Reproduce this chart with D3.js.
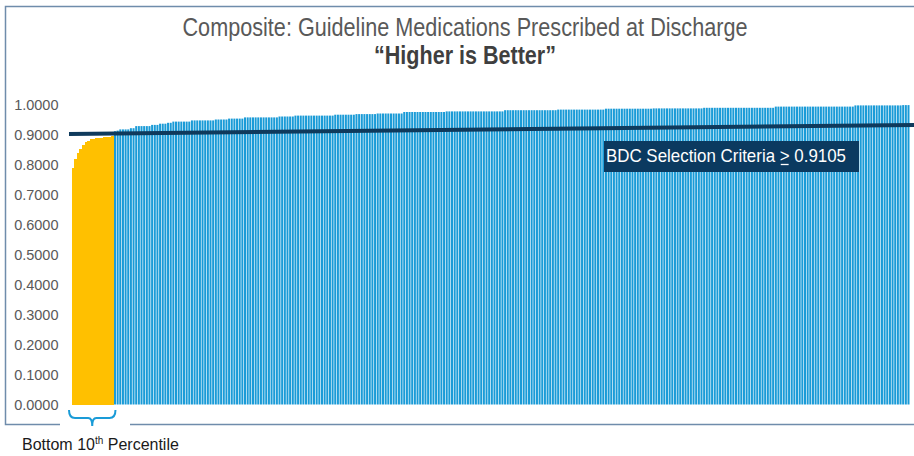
<!DOCTYPE html>
<html>
<head>
<meta charset="utf-8">
<script src="https://cdn.jsdelivr.net/npm/d3@7/dist/d3.min.js"></script>
<style>
  html, body { margin: 0; padding: 0; background: #fff; }
  svg { display: block; }
</style>
</head>
<body>
<svg id="chart" width="914" height="456"></svg>
<script>
// ---------------- DATA ----------------
const titleLines = ["Composite: Guideline Medications Prescribed at Discharge", "\u201CHigher is Better\u201D"];
const yTicks = [0, 0.1, 0.2, 0.3, 0.4, 0.5, 0.6, 0.7, 0.8, 0.9, 1.0];
const bottomValues = [0.790, 0.818, 0.838, 0.853, 0.866, 0.875, 0.880, 0.884, 0.886, 0.888, 0.889, 0.890, 0.891, 0.892, 0.893, 0.895];
const aboveValues = [
  0.911,0.913,0.917,0.917,0.917,0.917,0.921,0.921,0.928,0.928,0.928,0.928,0.928,0.928,0.932,0.932,0.932,0.936,0.936,0.936,
  0.939,0.939,0.943,0.943,0.943,0.943,0.943,0.943,0.943,0.947,0.947,0.947,0.947,0.947,0.947,0.947,0.947,0.947,0.950,0.950,
  0.950,0.950,0.950,0.953,0.953,0.953,0.953,0.953,0.953,0.957,0.957,0.957,0.957,0.957,0.957,0.957,0.957,0.957,0.957,0.957,
  0.957,0.957,0.960,0.960,0.960,0.960,0.960,0.960,0.963,0.963,0.963,0.963,0.963,0.963,0.963,0.963,0.963,0.963,0.963,0.963,
  0.963,0.963,0.963,0.966,0.966,0.966,0.966,0.966,0.966,0.966,0.966,0.968,0.968,0.968,0.968,0.968,0.968,0.968,0.968,0.970,
  0.970,0.970,0.970,0.970,0.970,0.970,0.970,0.970,0.970,0.975,0.975,0.975,0.975,0.975,0.975,0.975,0.975,0.975,0.975,0.975,
  0.975,0.975,0.975,0.975,0.975,0.977,0.977,0.977,0.977,0.977,0.977,0.977,0.977,0.977,0.977,0.977,0.977,0.977,0.977,0.977,
  0.977,0.977,0.977,0.977,0.977,0.977,0.977,0.981,0.981,0.981,0.981,0.981,0.981,0.981,0.981,0.981,0.981,0.981,0.981,0.981,
  0.981,0.981,0.981,0.981,0.981,0.981,0.981,0.983,0.983,0.983,0.983,0.983,0.983,0.983,0.983,0.983,0.983,0.983,0.983,0.983,
  0.983,0.983,0.983,0.983,0.983,0.986,0.986,0.986,0.986,0.986,0.986,0.986,0.986,0.986,0.986,0.986,0.986,0.986,0.986,0.986,
  0.986,0.986,0.986,0.987,0.987,0.987,0.987,0.987,0.987,0.987,0.987,0.987,0.987,0.987,0.987,0.987,0.987,0.987,0.987,0.987,
  0.987,0.987,0.989,0.989,0.989,0.989,0.989,0.989,0.989,0.989,0.989,0.989,0.989,0.989,0.989,0.989,0.989,0.989,0.989,0.989,
  0.989,0.989,0.989,0.989,0.989,0.989,0.989,0.989,0.989,0.993,0.993,0.993,0.993,0.993,0.993,0.993,0.993,0.993,0.993,0.993,
  0.993,0.993,0.993,0.993,0.993,0.993,0.993,0.993,0.993,0.993,0.993,0.993,0.993,0.993,0.993,0.993,0.993,0.993,0.993,0.997,
  0.997,0.997,0.997,0.997,0.997,0.997,0.997,0.997,0.997,0.997,0.997,0.997,0.997,0.997,0.997,0.997,0.997,0.998,0.998,0.998
];
const criteriaValue = 0.9105;
const criteriaLineEnds = [0.902, 0.932];   // drawn line runs slightly upward in the picture
const criteriaLabel = "BDC Selection Criteria > " + criteriaValue.toFixed(4);
const bottomLabel = ["Bottom 10", "th", " Percentile"];

// ---------------- CHART ----------------
const svg = d3.select("#chart");
const plot = { left: 71.5, right: 909.5, top: 104.5, bottom: 404.5 };

const allValues = bottomValues.map(v => ({ v, group: "bottom" }))
  .concat(aboveValues.map(v => ({ v, group: "above" })));
allValues.forEach((d, i) => d.i = i);

const x = d3.scaleBand().domain(allValues.map(d => d.i)).range([plot.left, plot.right]).paddingInner(0.24).paddingOuter(0);
const y = d3.scaleLinear().domain([0, 1]).range([plot.bottom, plot.top]);

// frame
svg.append("rect").attr("x", 5.5).attr("y", 6.5).attr("width", 920).attr("height", 418)
  .attr("fill", "none").attr("stroke", "#6f8cab").attr("stroke-width", 1.5);

// title
const font = "'Liberation Sans Narrow','Arial Narrow','Liberation Sans',Arial,sans-serif";
svg.append("text").attr("x", 465).attr("y", 36).attr("text-anchor", "middle")
  .attr("font-family", font).attr("font-size", 25).attr("fill", "#595959")
  .attr("textLength", 565).attr("lengthAdjust", "spacingAndGlyphs")
  .text(titleLines[0]);
svg.append("text").attr("x", 465).attr("y", 64).attr("text-anchor", "middle")
  .attr("font-family", font).attr("font-size", 25).attr("font-weight", "bold").attr("fill", "#3f3f3f")
  .attr("textLength", 182).attr("lengthAdjust", "spacingAndGlyphs")
  .text(titleLines[1]);

// y axis labels
const yAxis = d3.axisLeft(y).tickValues(yTicks).tickFormat(d3.format(".4f")).tickSize(0).tickPadding(0);
const gy = svg.append("g").attr("transform", "translate(58.5,0)").call(yAxis);
gy.select(".domain").remove();
gy.selectAll("text").attr("font-family", "'Liberation Sans',Arial,sans-serif").attr("font-size", 14.5)
  .attr("fill", "#595959").attr("dy", "0.35em");

// bars
svg.append("g").selectAll("rect").data(allValues.filter(d => d.group === "above")).join("rect")
  .attr("x", d => x(d.i)).attr("width", x.bandwidth())
  .attr("y", d => y(d.v)).attr("height", d => y(0) - y(d.v))
  .attr("fill", "#1a9bd7");
svg.append("g").attr("shape-rendering", "crispEdges").selectAll("rect")
  .data(allValues.filter(d => d.group === "bottom")).join("rect")
  .attr("x", d => x(d.i)).attr("width", d => d.i === bottomValues.length - 1 ? x.step() : x.step() + 1.5)
  .attr("y", d => y(d.v)).attr("height", d => y(0) - y(d.v))
  .attr("fill", "#ffc000");

// criteria line
svg.append("line")
  .attr("x1", 69).attr("x2", 914)
  .attr("y1", y(criteriaLineEnds[0])).attr("y2", y(criteriaLineEnds[1]))
  .attr("stroke", "#0f3a5c").attr("stroke-width", 4);

// criteria label
svg.append("rect").attr("x", 604).attr("y", 141).attr("width", 255).attr("height", 31).attr("fill", "#0b3a60");
const lbl = svg.append("text").attr("x", 606).attr("y", 162)
  .attr("font-family", font).attr("font-size", 19).attr("fill", "#ffffff")
  .attr("textLength", 240).attr("lengthAdjust", "spacingAndGlyphs")
  .text(criteriaLabel);
// underline under ">" to make it read as "≥"
const gtIndex = criteriaLabel.indexOf(">");
const ext = lbl.node().getExtentOfChar(gtIndex);
svg.append("line").attr("x1", ext.x + 1).attr("x2", ext.x + ext.width - 1)
  .attr("y1", 164.5).attr("y2", 164.5).attr("stroke", "#ffffff").attr("stroke-width", 1.3);

// bracket under bottom 10th percentile
const bx0 = x(0) - 2.5, bx1 = x(bottomValues.length - 1) + x.step() + 1.5, bm = (bx0 + bx1) / 2;
svg.append("rect").attr("x", 60).attr("y", 420).attr("width", 70).attr("height", 10).attr("fill", "#fff");
svg.append("path")
  .attr("d", `M${bx0},410 Q${bx0},418 ${bx0 + 6},418 L${bm - 4},418 Q${bm},418 ${bm},426 Q${bm},418 ${bm + 4},418 L${bx1 - 6},418 Q${bx1},418 ${bx1},410`)
  .attr("fill", "none").attr("stroke", "#1a9bd7").attr("stroke-width", 2);

const bt = svg.append("text").attr("x", 22).attr("y", 450)
  .attr("font-family", font).attr("font-size", 16).attr("fill", "#1a1a1a");
bt.append("tspan").text(bottomLabel[0]);
bt.append("tspan").attr("font-size", 10).attr("dy", -6).text(bottomLabel[1]);
bt.append("tspan").attr("dy", 6).text(bottomLabel[2]);
</script>
</body>
</html>
